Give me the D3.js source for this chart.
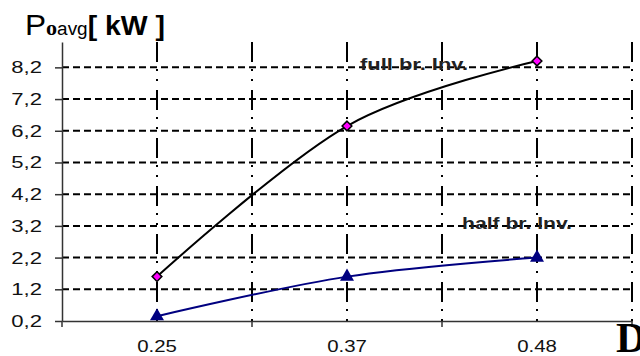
<!DOCTYPE html>
<html>
<head>
<meta charset="utf-8">
<script src="https://cdn.jsdelivr.net/npm/d3@7"></script>
<style>
  body { margin: 0; background: #fff; }
  svg { display: block; font-family: Arial, "Liberation Sans", sans-serif; }
</style>
</head>
<body>
<div class="render"></div>
<script>
"use strict";

// values
var categories = ["0.25", "0.37", "0.48"];
var fullBr = [1.6, 6.35, 8.4];
var halfBr = [0.35, 1.6, 2.2];
var yTicks = [0.2, 1.2, 2.2, 3.2, 4.2, 5.2, 6.2, 7.2, 8.2];
var seriesNames = ["full br. Inv.", "half br. Inv."];

var w = 640, h = 356;
var plotLeft = 62, plotRight = 632, plotTop = 42, plotBottom = 321;
var stretch = 1.3; // text in the picture is drawn wider than normal

var svg = d3.select(".render").append("svg").attr("width", w).attr("height", h);

var x = d3.scaleBand().domain(categories).range([plotLeft, plotRight]).paddingInner(0).paddingOuter(0);
var y = d3.scaleLinear().domain([0.2, 9.0]).range([plotBottom, plotTop]);

// stretch a text sideways by the picture's factor
function widen(sel, factor) {
   sel.each(function () {
      var len = this.getComputedTextLength();
      d3.select(this).attr("textLength", len * (factor || stretch)).attr("lengthAdjust", "spacingAndGlyphs");
   });
}

// band edges + centres for vertical grid
var edges = [];
categories.forEach(function (c) { edges.push(x(c) + x.bandwidth()); });
var centres = categories.map(function (c) { return x(c) + x.bandwidth() / 2; });
var vgrid = centres.concat(edges);

// horizontal dashed grid
svg.append("g").selectAll("line").data(yTicks.slice(1)).enter().append("line")
   .attr("x1", plotLeft).attr("x2", plotRight)
   .attr("y1", function (d) { return y(d); }).attr("y2", function (d) { return y(d); })
   .attr("stroke", "#000").attr("stroke-width", 2).attr("stroke-dasharray", "7,4");

// vertical dash-dot-dot grid
svg.append("g").selectAll("line").data(vgrid).enter().append("line")
   .attr("x1", function (d) { return d; }).attr("x2", function (d) { return d; })
   .attr("y1", plotTop).attr("y2", plotBottom)
   .attr("stroke", "#000").attr("stroke-width", 2).attr("stroke-dasharray", "20,7,2,8,2,9");

// y axis
var fmt = function (d) { return d3.format(".1f")(d).replace(".", ","); };
var yAxis = svg.append("g").attr("transform", "translate(" + plotLeft + ",0)")
   .call(d3.axisLeft(y).tickValues(yTicks).tickSize(7).tickSizeOuter(0).tickPadding(13).tickFormat(fmt));
yAxis.select(".domain").attr("stroke", "#333").attr("stroke-width", 1.5);
yAxis.selectAll(".tick line").attr("stroke", "#333").attr("stroke-width", 1.5);
yAxis.selectAll("text").style("font-size", "17px").attr("fill", "#111").call(widen);

// x axis
var xAxis = svg.append("g").attr("transform", "translate(0," + plotBottom + ")")
   .call(d3.axisBottom(x).tickSize(0).tickPadding(19));
xAxis.select(".domain").attr("stroke", "#333").attr("stroke-width", 1.5);
xAxis.selectAll("text").style("font-size", "17px").attr("fill", "#111").call(widen, 1.2);
xAxis.selectAll(".edge").data([plotLeft].concat(edges)).enter().append("line").attr("class", "edge")
   .attr("x1", function (d) { return d; }).attr("x2", function (d) { return d; })
   .attr("y1", 0).attr("y2", 6).attr("stroke", "#333").attr("stroke-width", 1.5);

// lines
var line = d3.line()
   .x(function (d, i) { return x(categories[i]) + x.bandwidth() / 2; })
   .y(function (d) { return y(d); })
   .curve(d3.curveCatmullRom.alpha(0));

svg.append("path").datum(fullBr).attr("d", line).attr("fill", "none").attr("stroke", "#000").attr("stroke-width", 2);
svg.append("path").datum(halfBr).attr("d", line).attr("fill", "none").attr("stroke", "#000080").attr("stroke-width", 2);

// markers
svg.selectAll(".dia").data(fullBr).enter().append("path").attr("class", "dia")
   .attr("d", d3.symbol().type(d3.symbolDiamond2).size(60))
   .attr("transform", function (d, i) { return "translate(" + (x(categories[i]) + x.bandwidth() / 2) + "," + y(d) + ")"; })
   .attr("fill", "#ff00ff").attr("stroke", "#000").attr("stroke-width", 1.5);

svg.selectAll(".tri").data(halfBr).enter().append("path").attr("class", "tri")
   .attr("d", d3.symbol().type(d3.symbolTriangle).size(85))
   .attr("transform", function (d, i) { return "translate(" + (x(categories[i]) + x.bandwidth() / 2) + "," + y(d) + ")"; })
   .attr("fill", "#000080");

// series labels
svg.append("text").text(seriesNames[0]).attr("x", 360).attr("y", 70)
   .attr("textLength", 108).attr("lengthAdjust", "spacingAndGlyphs")
   .style("font-size", "16px").style("font-weight", "bold").attr("fill", "#222");
svg.append("text").text(seriesNames[1]).attr("x", 462).attr("y", 229)
   .attr("textLength", 110).attr("lengthAdjust", "spacingAndGlyphs")
   .style("font-size", "16px").style("font-weight", "bold").attr("fill", "#222");

// axis titles
var t = svg.append("text").attr("x", 25).attr("y", 35).attr("fill", "#000");
t.append("tspan").text("P").style("font-size", "30px");
t.append("tspan").text("o").style("font-size", "21px").style("font-weight", "bold")
   .style("font-family", "'Liberation Serif', 'DejaVu Serif', serif");
t.append("tspan").text("avg").style("font-size", "18px");
t.append("tspan").text("[ kW ]").style("font-size", "27px").style("font-weight", "bold");
t.attr("textLength", 140).attr("lengthAdjust", "spacingAndGlyphs");

svg.append("text").text("D").attr("x", 616).attr("y", 352)
   .style("font-family", "'Liberation Serif', 'Times New Roman', serif")
   .style("font-size", "42px").style("font-weight", "bold").attr("fill", "#000");
</script>
</body>
</html>
